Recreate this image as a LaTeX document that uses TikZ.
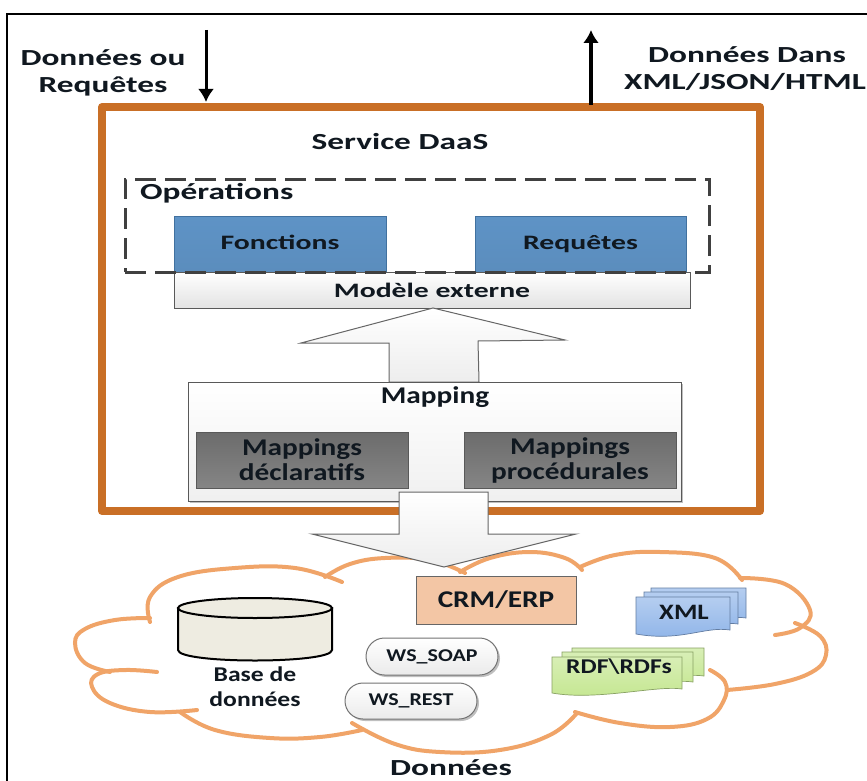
\documentclass[tikz,border=0pt]{standalone}
\usepackage{fontspec}
\setmainfont[FakeStretch=1.45]{Carlito}
\newfontfamily\lowfont[FakeStretch=1.22]{Carlito}
\usetikzlibrary{shadows,arrows.meta,shapes.misc}
\definecolor{orangeframe}{HTML}{C96F26}
\definecolor{cloudorange}{HTML}{F0A468}
\definecolor{blueA}{HTML}{5E93C6}
\definecolor{blueB}{HTML}{5B8DBD}
\definecolor{blueE}{HTML}{41719F}
\definecolor{darkA}{HTML}{6C6C6C}
\definecolor{darkB}{HTML}{858585}
\definecolor{txt}{HTML}{101820}
\definecolor{crmfill}{HTML}{F3C6A5}
\definecolor{dbfill}{HTML}{EEECE1}
\definecolor{xmlblue}{HTML}{8DB3E8}
\definecolor{rdfgreen}{HTML}{C3E68E}
\tikzset{
  lab/.style={font=\fontsize{23}{27}\selectfont\bfseries,text=txt,inner sep=0pt,align=center},
  lowlab/.style={font=\lowfont\fontsize{21}{24}\selectfont\bfseries,text=txt,inner sep=0pt,align=center},
  boxed/.style={inner sep=0pt,outer sep=0pt,align=center,font=\fontsize{20.5}{25}\selectfont\bfseries,text=txt},
  softshadow/.style={drop shadow={shadow xshift=2pt,shadow yshift=-2pt,opacity=.25,fill=black}},
  bluebox/.style={boxed,draw=blueE,line width=1pt,top color=blueA,bottom color=blueB},
  lightbox/.style={boxed,draw=black!65,line width=1pt,top color=white,bottom color=black!11},
  palebox/.style={boxed,draw=black!65,line width=1pt,top color=white,bottom color=black!6,softshadow},
  darkbox/.style={boxed,draw=black!65,line width=1pt,top color=darkA,bottom color=darkB,font=\lowfont\fontsize{24}{25}\selectfont\bfseries},
  blockarrow/.style={draw=black!60,line width=1pt,top color=white,bottom color=black!7,line join=miter},
  cloudline/.style={draw=cloudorange,line width=4pt,line cap=round},
  pill/.style={boxed,rounded rectangle,draw=black!55,line width=1pt,top color=white,bottom color=black!8,softshadow,font=\lowfont\fontsize{18}{22}\selectfont\bfseries},
  flow/.style={draw=black,-{Latex[length=13pt,width=16pt]}}
}
\newcommand{\bx}[7]{\node[#6,minimum width={(#4)-(#2)},minimum height={(#5)-(#3)}] (#1) at ({((#2)+(#4))/2},{((#3)+(#5))/2}) {#7};}
\newcommand{\docsheet}[5]{\path[draw=#5!70!black,line width=.7pt,top color=#5!65,bottom color=#5] (#1,#2) -- (#3,#2) -- (#3,{#4-4}) .. controls ({#3-25},{#4-8}) and ({#1+45},{#4+8}) .. (#1,#4) -- cycle;}
\begin{document}
\begin{tikzpicture}[x=1pt,y=-1pt]
\useasboundingbox (0,0) rectangle (867,781);
\fill[white] (0,0) rectangle (867,781);
\draw[black,line width=2pt] (7,781) -- (7,14) -- (867,14);

% orange frame
\bx{daas}{102}{107}{760}{511}{draw=orangeframe,line width=8pt,line join=round}{}
\coordinate (inTop) at (206,30);
\coordinate (inEnd) at (206,102);
\coordinate (outStart) at (591,105);
\coordinate (outTop) at (591,30);
\draw[flow,line width=3pt] (inTop) -- (inEnd);
\draw[flow,line width=4pt] (outStart) -- (outTop);

\node[lab] (reqL1) at (103,58) {Données ou};
\node[lab] (reqL2) at (103,86) {Requêtes};
\node[lab] (resL1) at (747,55) {Données Dans};
\node[lab] (resL2) at (745,82) {XML/JSON/HTML};
\node[lab] (svc) at (400,142) {Service DaaS};

% operations
\bx{fonc}{174}{216}{386}{272}{bluebox}{\strut Fonctions}
\bx{requ}{475}{216}{686}{272}{bluebox}{\strut Requêtes}
\bx{mext}{174}{272}{690}{308}{lightbox}{Modèle externe}
\node[lab,anchor=west] (ops) at (140,193) {Opérations};
\bx{opsbox}{125}{179}{709}{272}{draw=black!75,line width=3pt,dash pattern=on 21pt off 9pt}{}

% up arrow
\path[blockarrow] (433,308) -- (565,340) -- (478,341) -- (479,382) -- (389,382) -- (389,343) -- (301,343) -- cycle;

% mapping
\bx{map}{188}{382}{681}{501}{palebox}{}
\node[lab,font=\lowfont\fontsize{24}{27}\selectfont\bfseries] (mapt) at (435,397) {Mapping};
\bx{mapd}{196}{432}{408}{488}{darkbox}{Mappings\\déclaratifs}
\bx{mapp}{464}{432}{676}{488}{darkbox}{Mappings\\procédurales}

% cloud
\draw[cloudline] plot[smooth,tension=.7] coordinates {(150,622) (150,597) (178,577) (235,568) (295,568) (342,582)};
\draw[cloudline] plot[smooth,tension=.7] coordinates {(325,577) (350,564) (385,558) (430,560) (465,573)};
\draw[cloudline] plot[smooth,tension=.7] coordinates {(460,572) (490,558) (530,552) (565,558) (582,570)};
\draw[cloudline] plot[smooth,tension=.7] coordinates {(580,567) (615,555) (660,552) (715,558) (742,580)};
\draw[cloudline] plot[smooth,tension=.7] coordinates {(740,578) (785,584) (810,610) (800,628) (775,635)};
\draw[cloudline] plot[smooth,tension=.7] coordinates {(795,623) (820,636) (826,655) (812,672) (775,684) (727,690)};
\draw[cloudline] plot[smooth,tension=.7] coordinates {(710,670) (725,682) (724,700) (707,719) (670,727) (620,723) (575,712)};
\draw[cloudline] plot[smooth,tension=.7] coordinates {(577,713) (550,735) (500,750) (440,752) (395,744) (352,723)};
\draw[cloudline] plot[smooth,tension=.7] coordinates {(362,730) (320,737) (270,738) (215,730) (180,712)};
\draw[cloudline] plot[smooth,tension=.7] coordinates {(197,710) (150,712) (110,703) (92,687) (98,674) (125,670) (157,672)};
\draw[cloudline] plot[smooth,tension=.7] coordinates {(110,672) (85,663) (75,643) (85,629) (115,620) (150,618)};

% down arrow
\path[blockarrow] (399,492) -- (488,492) -- (488,534) -- (576,534) -- (444,567) -- (312,534) -- (399,534) -- cycle;

% CRM
\bx{crm}{416}{576}{576}{624}{boxed,draw=black!60,line width=1pt,fill=crmfill,font=\lowfont\fontsize{24}{28}\selectfont\bfseries}{CRM/ERP}

% database
\path[draw=black,line width=2pt,fill=dbfill] (178,608) -- (178,650) .. controls (178,664) and (332,664) .. (332,650) -- (332,608) -- cycle;
\draw[black,line width=2pt,fill=dbfill] (255,608) ellipse [x radius=77,y radius=10];
\node[lowlab] (db) at (255,687) {Base de\\[1pt]données};

% pills
\bx{soap}{366}{638}{498}{675}{pill}{WS\_SOAP}
\bx{rest}{345}{683}{477}{719}{pill}{WS\_REST}

% xml stack
\docsheet{651}{588}{746}{622}{xmlblue}
\docsheet{644}{592}{738}{628}{xmlblue}
\docsheet{636}{597}{730}{634}{xmlblue}
\node[lowlab,font=\lowfont\fontsize{22}{26}\selectfont\bfseries] (xml) at (684,612) {XML};

% rdf stack
\docsheet{572}{648}{704}{680}{rdfgreen}
\docsheet{562}{652}{693}{686}{rdfgreen}
\docsheet{552}{657}{682}{693}{rdfgreen}
\node[lowlab] (rdf) at (619,667) {RDF\textbackslash RDFs};

\node[lab,anchor=base] (data) at (451,775) {Données};
\end{tikzpicture}
\end{document}
